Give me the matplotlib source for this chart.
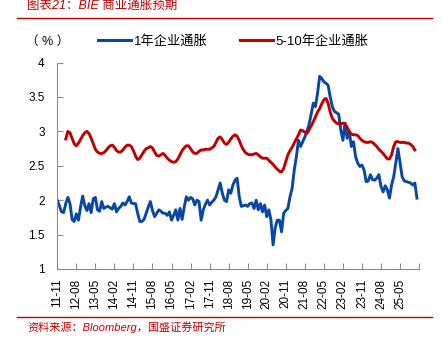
import numpy as np
import matplotlib
matplotlib.use("Agg")
import matplotlib.pyplot as plt
from matplotlib.lines import Line2D

plt.rcParams['font.family'] = ['Liberation Sans', 'Noto Sans CJK SC', 'DejaVu Sans']

# ---- data (monthly, month 0 = 2011-11) ----
tick_labels = ["11-11", "12-08", "13-05", "14-02", "14-11", "15-08", "16-05",
               "17-02", "17-11", "18-08", "19-05", "20-02", "20-11", "21-08",
               "22-05", "23-02", "23-11", "24-08", "25-05"]

bie_1y = [
    2.00, 1.92, 1.83, 1.82, 1.95, 2.04, 1.95, 1.72, 1.69, 1.80,
    1.71, 1.90, 2.06, 1.92, 1.85, 1.95, 1.82, 2.02, 2.04, 1.86,
    1.84, 1.98, 1.88, 1.90, 1.91, 1.89, 1.87, 1.95, 1.83, 1.88,
    1.91, 1.96, 1.93, 1.98, 2.05, 1.96, 1.95, 1.95, 1.81, 1.69,
    1.69, 1.72, 1.81, 1.90, 1.98, 1.85, 1.76, 1.81, 1.86, 1.84,
    1.81, 1.81, 1.78, 1.83, 1.71, 1.78, 1.86, 1.71, 1.88, 1.72,
    1.90, 2.05, 2.00, 2.04, 2.02, 1.93, 2.00, 1.98, 1.71, 1.86,
    1.94, 2.00, 1.93, 1.97, 2.00, 2.05, 2.15, 2.25, 2.10, 2.00,
    1.98, 2.15, 2.10, 2.22, 2.29, 2.32, 2.05, 1.91, 1.92, 1.93,
    1.91, 1.95, 1.96, 1.88, 2.00, 1.86, 1.95, 1.83, 1.93, 1.76,
    1.86, 1.71, 1.35, 1.60, 1.71, 1.71, 1.54, 1.81, 1.85, 1.88,
    2.05, 2.17, 2.44, 2.63, 2.87, 2.78, 2.85, 2.92, 3.00, 3.10,
    3.25, 3.41, 3.36, 3.55, 3.80, 3.77, 3.72, 3.70, 3.67, 3.50,
    3.36, 3.29, 3.27, 3.25, 3.02, 2.87, 3.12, 2.90, 3.00, 2.78,
    2.85, 2.63, 2.54, 2.49, 2.51, 2.44, 2.27, 2.28, 2.37, 2.30,
    2.29, 2.32, 2.37, 2.20, 2.12, 2.21, 2.15, 2.03, 2.22, 2.34,
    2.55, 2.75, 2.54, 2.34, 2.28, 2.27, 2.26, 2.25, 2.22, 2.25,
    2.03,
]

bie_5_10y_start = 4
bie_5_10y = [
    2.89, 3.00, 2.98, 2.90, 2.82, 2.79, 2.83, 2.88, 2.94, 2.98,
    3.00, 2.97, 2.90, 2.82, 2.74, 2.70, 2.68, 2.68, 2.69, 2.72,
    2.76, 2.79, 2.80, 2.77, 2.72, 2.70, 2.70, 2.73, 2.77, 2.80,
    2.80, 2.78, 2.72, 2.64, 2.59, 2.61, 2.66, 2.71, 2.75, 2.76,
    2.78, 2.76, 2.70, 2.65, 2.64, 2.66, 2.68, 2.65, 2.61, 2.58,
    2.56, 2.55, 2.56, 2.60, 2.66, 2.72, 2.76, 2.79, 2.79, 2.75,
    2.70, 2.68, 2.68, 2.71, 2.73, 2.73, 2.74, 2.74, 2.74, 2.76,
    2.78, 2.84, 2.90, 2.92, 2.88, 2.83, 2.81, 2.84, 2.89, 2.93,
    2.95, 2.93, 2.87, 2.79, 2.73, 2.69, 2.67, 2.66, 2.66, 2.67,
    2.68, 2.66, 2.63, 2.61, 2.61, 2.61, 2.58, 2.55, 2.52, 2.48,
    2.45, 2.42, 2.41, 2.46, 2.56, 2.66, 2.72, 2.77, 2.83, 2.89,
    2.95, 3.02, 3.01, 2.99, 2.97, 3.02, 3.08, 3.14, 3.21, 3.28,
    3.33, 3.40, 3.46, 3.48, 3.41, 3.28, 3.19, 3.15, 3.12, 3.11,
    3.11, 3.12, 3.11, 3.06, 3.00, 2.96, 2.95, 2.95, 2.94, 2.90,
    2.87, 2.85, 2.84, 2.84, 2.85, 2.84, 2.81, 2.78, 2.74, 2.71,
    2.68, 2.64, 2.60, 2.60, 2.66, 2.78, 2.85, 2.85, 2.84, 2.84,
    2.84, 2.83, 2.83, 2.81, 2.78, 2.73,
]

BLUE = "#0a47a3"
RED = "#c00000"
GREY = "#8c8c8c"

fig = plt.figure(figsize=(4.43, 3.45), dpi=100)
ax = fig.add_axes([0.1293, 0.2203, 0.8167, 0.5983])

x1 = np.arange(len(bie_1y))
x2 = np.arange(len(bie_5_10y)) + bie_5_10y_start
ax.plot(x1, bie_1y, color=BLUE, lw=2.1, solid_joinstyle="round")
ax.plot(x2, bie_5_10y, color=RED, lw=2.1, solid_joinstyle="round")

ax.set_xlim(0, 171)
ax.set_ylim(1, 4)
ax.set_yticks([1, 1.5, 2, 2.5, 3, 3.5, 4])
ax.set_yticklabels(["1", "1.5", "2", "2.5", "3", "3.5", "4"])
ticks = np.arange(0, 172, 9)
ax.set_xticks(ticks)
ax.set_xticklabels(tick_labels + [""], rotation=90)

for s in ["top", "right"]:
    ax.spines[s].set_visible(False)
for s in ["left", "bottom"]:
    ax.spines[s].set_color(GREY)
    ax.spines[s].set_linewidth(0.8)
ax.tick_params(axis="both", direction="in", length=4, color=GREY, labelsize=8.5)
ax.tick_params(axis="y", pad=9)
ax.tick_params(axis="x", pad=7)

# legend
handles = [Line2D([0], [0], color=BLUE, lw=2.2), Line2D([0], [0], color=RED, lw=2.2)]
fig.legend(handles, ["1年企业通胀", "5-10年企业通胀"], loc="center left",
           bbox_to_anchor=(0.221, 1 - 41.7 / 345), ncol=2, frameon=False,
           fontsize=9.5, handlelength=2.5, handletextpad=0.25, columnspacing=2.4,
           borderpad=0, borderaxespad=0)
fig.text(48 / 443, 1 - 42 / 345, "（ % ）", ha="center", va="center", fontsize=9)

# header / footer
fig.text(27 / 443, 1 - 6 / 345, "图表21：BIE 商业通胀预期", color=RED, fontsize=9,
         style="italic", ha="left", va="center")
fig.add_artist(Line2D([17 / 443, 432 / 443], [1 - 17.7 / 345] * 2, color=RED, lw=1))
fig.add_artist(Line2D([17 / 443, 432 / 443], [1 - 317.3 / 345] * 2, color=RED, lw=1))
fig.text(27 / 443, 1 - 327 / 345, "资料来源：Bloomberg，国盛证券研究所", color=RED,
         fontsize=8, style="italic", ha="left", va="center")

fig.savefig("out.png", dpi=100)
